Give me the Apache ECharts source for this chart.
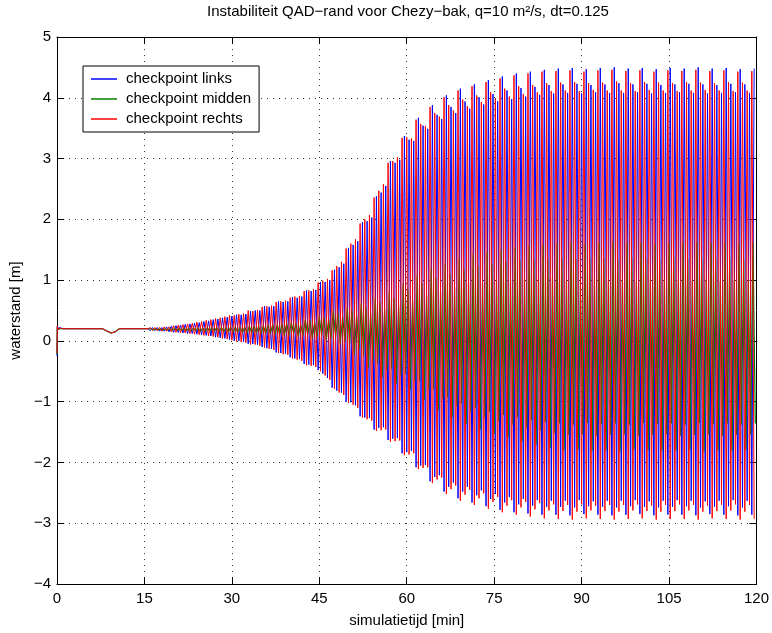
<!DOCTYPE html>
<html>
<head>
<meta charset="utf-8">
<script src="https://cdn.jsdelivr.net/npm/echarts@6/dist/echarts.min.js"></script>
<style>
html,body{margin:0;padding:0;background:#fff;}
#chart{width:772px;height:633px;}
</style>
</head>
<body>
<div id="chart"></div>
<script>
// ---------------- DATA ----------------
const chartTitle = 'Instabiliteit QAD\u2212rand voor Chezy\u2212bak, q=10 m\u00b2/s, dt=0.125';
const seriesNames = ['checkpoint links', 'checkpoint midden', 'checkpoint rechts'];
const xTicks = [0, 15, 30, 45, 60, 75, 90, 105, 120];
const yTicks = [-4, -3, -2, -1, 0, 1, 2, 3, 4, 5];

// initial (quiet) part of the simulation, time in minutes
const startTime   = [0, 0.05, 0.15, 0.3, 0.6, 1.0, 2, 4, 6, 7.8, 8.6, 9.3, 10.0, 10.7, 12, 14, 15.6];
const startLinks  = [-0.25, 0.24, 0.18, 0.22, 0.21, 0.20, 0.20, 0.20, 0.20, 0.20, 0.16, 0.13, 0.15, 0.20, 0.20, 0.20, 0.20];
const startMidden = [-0.22, 0.23, 0.19, 0.21, 0.20, 0.20, 0.20, 0.20, 0.20, 0.20, 0.16, 0.13, 0.15, 0.20, 0.20, 0.20, 0.20];
const startRechts = [-0.20, 0.24, 0.19, 0.22, 0.21, 0.20, 0.20, 0.20, 0.20, 0.20, 0.16, 0.13, 0.15, 0.20, 0.20, 0.20, 0.20];

// oscillation: one maximum and one minimum per cycle, cycles start at 16 min, 0.8 min apart
const cycleStart = 16;
const cyclePeriod = 0.8;

const linksMax = [
 .22,.22,.22,.23,.24,.25,.26,.27,.28,.29,.30,.32,.33,.35,.36,.38,.39,.41,
 .43,.43,.44,.49,.50,.50,.57,.56,.57,.65,.64,.65,.72,.71,.73,.83,.82,.84,.97,.97,1.00,1.17,1.21,1.27,
 1.53,1.58,1.64,1.95,1.97,2.03,2.38,2.44,2.55,2.96,2.93,2.98,3.37,3.31,3.29,3.67,3.54,3.49,3.88,3.72,3.65,
 4.04,3.85,3.75,4.15,3.94,3.82,4.22,4.01,3.89,4.29,4.06,3.94,4.35,4.12,3.98,4.40,4.16,4.02,4.43,4.18,4.05,4.46,4.21,4.07,
 4.48,4.22,4.08,4.49,4.23,4.07,4.47,4.21,4.09,4.49,4.22,4.08,4.50,4.24,4.08,4.48,4.22,4.09,4.49,4.23,4.07,
 4.47,4.21,4.08,4.49,4.22,4.09,4.48,4.23,4.08,4.50,4.22,4.07,4.48,4.21,4.08,4.49,4.23,4.09,4.47,4.22,4.08,4.48
];
const linksMin = [
 .17,.17,.16,.16,.15,.14,.14,.13,.12,.12,.11,.10,.09,.08,.06,.05,.04,.02,
 .00,.00,-.01,-.05,-.05,-.06,-.10,-.12,-.13,-.19,-.20,-.21,-.27,-.29,-.30,-.38,-.39,-.40,-.48,-.54,-.61,-.77,-.82,-.85,
 -1.00,-1.01,-1.06,-1.24,-1.26,-1.27,-1.46,-1.43,-1.42,-1.63,-1.61,-1.60,-1.85,-1.83,-1.81,-2.08,-2.05,-2.04,-2.31,-2.24,-2.21,
 -2.48,-2.40,-2.33,-2.59,-2.48,-2.40,-2.66,-2.54,-2.46,-2.72,-2.60,-2.52,-2.78,-2.66,-2.57,-2.82,-2.69,-2.60,-2.84,-2.71,-2.62,-2.86,-2.73,-2.63,
 -2.86,-2.73,-2.63,-2.87,-2.74,-2.62,-2.85,-2.72,-2.64,-2.86,-2.73,-2.63,-2.87,-2.74,-2.63,-2.86,-2.72,-2.62,-2.85,-2.73,-2.64,
 -2.87,-2.74,-2.63,-2.86,-2.73,-2.62,-2.86,-2.72,-2.63,-2.87,-2.74,-2.64,-2.85,-2.73,-2.63,-2.86,-2.72,-2.62,-2.87,-2.74,-2.63,-2.86
];
const middenMax = [
 .20,.20,.20,.20,.20,.21,.21,.21,.21,.21,.21,.21,.22,.22,.22,.22,.22,.23,.23,.23,.23,.24,.24,.24,.25,.26,.27,.27,.28,.29,
 .30,.29,.27,.35,.34,.31,.40,.39,.36,.50,.46,.41,.55,.50,.43,.62,.56,.46,.71,.63,.52,.80,.71,.58,.95,.84,.67,
 1.08,.95,.76,1.19,1.04,.82,1.27,1.11,.88,1.36,1.18,.93,1.42,1.23,.96,1.47,1.27,.98,1.50,1.30,1.00,1.54,1.32,1.01,
 1.56,1.34,1.02,1.58,1.35,1.03,
 1.61,1.36,1.00,1.62,1.35,.98,1.60,1.37,1.02,1.62,1.36,.99,1.63,1.35,1.00,1.61,1.37,.98,1.62,1.36,1.02,
 1.60,1.35,.99,1.62,1.37,1.00,1.61,1.36,.98,1.63,1.35,1.02,1.61,1.36,.99,1.62,1.37,1.00,1.60,1.35,.98,1.62
];
const middenMin = [
 .18,.18,.18,.18,.18,.17,.17,.17,.17,.17,.16,.16,.16,.16,.15,.15,.15,.14,.14,.14,.13,.13,.13,.12,.12,.11,.10,.10,.09,.09,
 .12,.07,.09,.10,.04,.06,.08,.01,.04,.06,-.05,-.01,-.06,-.23,-.15,-.24,-.44,-.33,-.38,-.60,-.48,-.46,-.70,-.57,-.54,-.80,-.66,
 -.66,-.97,-.80,-.80,-1.14,-.96,-.93,-1.26,-1.07,-1.03,-1.37,-1.17,-1.11,-1.46,-1.26,-1.17,-1.53,-1.32,-1.22,-1.59,-1.38,
 -1.26,-1.65,-1.43,-1.30,-1.71,-1.48,-1.34,-1.76,-1.52,
 -1.36,-1.80,-1.55,-1.38,-1.79,-1.54,-1.35,-1.81,-1.56,-1.37,-1.80,-1.55,-1.36,-1.82,-1.54,-1.38,-1.79,-1.56,-1.35,-1.80,-1.55,
 -1.37,-1.81,-1.54,-1.36,-1.80,-1.56,-1.38,-1.79,-1.55,-1.35,-1.82,-1.54,-1.37,-1.80,-1.56,-1.36,-1.81,-1.55,-1.38,-1.79,-1.54,-1.36
];
const rechtsMax = [
 .22,.22,.22,.23,.23,.25,.26,.27,.28,.29,.31,.32,.34,.35,.37,.38,.40,.42,
 .42,.44,.45,.50,.49,.51,.56,.57,.58,.64,.65,.66,.71,.73,.74,.82,.83,.85,.96,.99,1.02,1.16,1.23,1.30,
 1.52,1.60,1.67,1.93,2.00,2.07,2.36,2.47,2.58,2.93,2.96,3.02,3.34,3.35,3.33,3.64,3.57,3.53,3.85,3.75,3.69,
 4.01,3.88,3.79,4.12,3.97,3.86,4.19,4.04,3.93,4.26,4.09,3.98,4.32,4.15,4.02,4.37,4.19,4.06,4.40,4.21,4.09,4.43,4.24,4.11,
 4.44,4.25,4.12,4.45,4.26,4.11,4.43,4.24,4.13,4.45,4.25,4.12,4.46,4.27,4.12,4.44,4.24,4.11,4.45,4.26,4.13,
 4.43,4.25,4.12,4.45,4.24,4.11,4.44,4.26,4.12,4.46,4.25,4.13,4.44,4.24,4.12,4.45,4.26,4.11,4.43,4.25,4.12,4.44
];
const rechtsMin = [
 .17,.17,.16,.16,.15,.14,.13,.13,.12,.11,.10,.09,.08,.07,.06,.04,.03,.01,
 -.01,-.02,-.03,-.06,-.06,-.08,-.11,-.13,-.15,-.20,-.22,-.23,-.29,-.31,-.33,-.40,-.41,-.43,-.50,-.57,-.64,-.79,-.85,-.89,
 -1.02,-1.05,-1.10,-1.26,-1.29,-1.31,-1.48,-1.47,-1.46,-1.66,-1.65,-1.64,-1.88,-1.87,-1.85,-2.11,-2.09,-2.08,-2.34,-2.28,-2.25,
 -2.52,-2.44,-2.38,-2.63,-2.53,-2.45,-2.70,-2.59,-2.51,-2.76,-2.65,-2.57,-2.82,-2.71,-2.62,-2.86,-2.74,-2.65,-2.89,-2.77,-2.67,-2.92,-2.79,-2.69,
 -2.93,-2.80,-2.70,-2.94,-2.81,-2.69,-2.92,-2.79,-2.71,-2.93,-2.80,-2.70,-2.94,-2.81,-2.70,-2.93,-2.79,-2.69,-2.92,-2.80,-2.71,
 -2.94,-2.81,-2.70,-2.93,-2.80,-2.69,-2.93,-2.79,-2.70,-2.94,-2.81,-2.71,-2.92,-2.80,-2.70,-2.93,-2.79,-2.69,-2.94,-2.81,-2.70,-2.93
];

// ---------------- BUILD ----------------
// phase of max / min inside each cycle (minutes after the cycle start)
function buildSeries(startVals, maxVals, minVals, maxPhase, minPhase) {
  const pts = startTime.map((t, k) => [t, startVals[k]]);
  for (let i = 0; i < maxVals.length; i++) {
    const t = cycleStart + i * cyclePeriod;
    const a = [t + maxPhase, maxVals[i]];
    const b = [t + minPhase, minVals[i]];
    if (maxPhase < minPhase) pts.push(a, b); else pts.push(b, a);
  }
  return pts;
}
const dataLinks  = buildSeries(startLinks,  linksMax,  linksMin,  0.4, 0.0);
const dataMidden = buildSeries(startMidden, middenMax, middenMin, 0.2, 0.6);
const dataRechts = buildSeries(startRechts, rechtsMax, rechtsMin, 0.0, 0.4);

const FONT = "'Liberation Sans', Arial, Helvetica, sans-serif";
const FS = 15;
const minus = v => String(v).replace('-', '\u2212');

const chart = echarts.init(document.getElementById('chart'), null, {renderer: 'canvas'});
const gridLine = {show: true, lineStyle: {color: '#333', type: [1, 5], width: 1}};
const tickIn = {show: true, inside: true, length: 7, lineStyle: {color: '#000'}};
const axLine = {show: true, onZero: false, lineStyle: {color: '#000', width: 1}};

const gridLeft = 55, gridRight = 11;
chart.setOption({
  animation: false,
  backgroundColor: '#fff',
  graphic: [{
    type: 'text',
    x: gridLeft + (772 - gridLeft - gridRight) / 2,
    y: 12,
    style: {
      text: chartTitle, textAlign: 'center', textVerticalAlign: 'middle',
      fontFamily: FONT, fontSize: FS, fill: '#000'
    }
  }],
  legend: {
    data: seriesNames,
    orient: 'vertical',
    left: 83,
    top: 66,
    icon: 'rect',
    itemWidth: 26,
    itemHeight: 1.5,
    itemGap: 2,
    padding: [4, 8, 4, 8],
    backgroundColor: '#fff',
    borderColor: '#000',
    borderWidth: 1,
    borderRadius: 0,
    textStyle: {fontFamily: FONT, fontSize: FS, color: '#000', lineHeight: 18, padding: [0, 0, 0, 4]}
  },
  grid: {left: gridLeft, right: gridRight, top: 37, bottom: 35, containLabel: false},
  xAxis: [{
    type: 'value', min: 0, max: 120, interval: 15,
    name: 'simulatietijd [min]', nameLocation: 'middle', nameGap: 29,
    nameTextStyle: {fontFamily: FONT, fontSize: FS, color: '#000'},
    axisLine: axLine, axisTick: tickIn, splitLine: gridLine,
    axisLabel: {fontFamily: FONT, fontSize: FS, color: '#000', margin: 7, formatter: minus,
      customValues: xTicks}
  }, {
    type: 'value', min: 0, max: 120, interval: 15, position: 'top',
    axisLine: axLine, axisTick: tickIn, splitLine: {show: false}, axisLabel: {show: false}
  }],
  yAxis: [{
    type: 'value', min: -4, max: 5, interval: 1,
    name: 'waterstand [m]', nameLocation: 'middle', nameGap: 25, nameRotate: 90,
    nameTextStyle: {fontFamily: FONT, fontSize: FS, color: '#000'},
    axisLine: axLine, axisTick: tickIn, splitLine: gridLine,
    axisLabel: {fontFamily: FONT, fontSize: FS, color: '#000', margin: 6, formatter: minus,
      customValues: yTicks}
  }, {
    type: 'value', min: -4, max: 5, interval: 1, position: 'right',
    axisLine: axLine, axisTick: tickIn, splitLine: {show: false}, axisLabel: {show: false}
  }],
  series: [
    {name: seriesNames[0], type: 'line', data: dataLinks, symbol: 'none', showSymbol: false,
     lineStyle: {color: '#0000ff', width: 1}, itemStyle: {color: '#0000ff'}, clip: true, z: 2},
    {name: seriesNames[1], type: 'line', data: dataMidden, symbol: 'none', showSymbol: false,
     lineStyle: {color: '#008000', width: 1.2}, itemStyle: {color: '#008000'}, clip: true, z: 3},
    {name: seriesNames[2], type: 'line', data: dataRechts, symbol: 'none', showSymbol: false,
     lineStyle: {color: '#ff0000', width: 1}, itemStyle: {color: '#ff0000'}, clip: true, z: 4}
  ]
});
</script>
</body>
</html>
